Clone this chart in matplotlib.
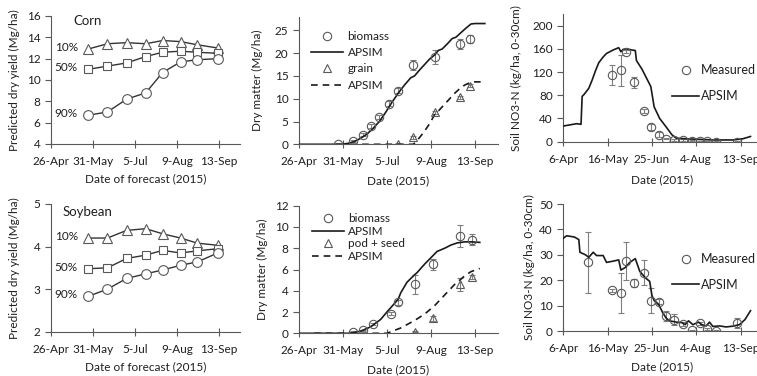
import numpy as np
import matplotlib
matplotlib.use("Agg")
import matplotlib.pyplot as plt
from matplotlib.lines import Line2D

plt.rcParams['font.family'] = ['Lato', 'DejaVu Sans']
plt.rcParams['font.size'] = 8

# ---------------- data (x values are day of year, 2015) ----------------
forecast_doy = [147, 163, 179, 195, 209, 224, 238, 255]
corn_p10 = [12.9, 13.4, 13.5, 13.4, 13.7, 13.6, 13.3, 13.0]
corn_p50 = [11.0, 11.3, 11.6, 12.2, 12.6, 12.7, 12.6, 12.5]
corn_p90 = [6.7, 7.0, 8.2, 8.8, 10.7, 11.7, 11.9, 12.0]
soy_p10 = [4.20, 4.20, 4.38, 4.42, 4.30, 4.20, 4.08, 4.03]
soy_p50 = [3.48, 3.50, 3.72, 3.80, 3.91, 3.85, 3.90, 3.95]
soy_p90 = [2.83, 3.00, 3.25, 3.36, 3.45, 3.56, 3.64, 3.85]
pct_labels = ['10%', '50%', '90%']

# corn dry matter
corn_bio_doy = [147, 159, 167, 173, 180, 188, 195, 207, 224, 244, 252]
corn_bio = [0.0, 0.7, 2.1, 4.0, 6.0, 8.9, 11.8, 17.3, 19.2, 22.0, 23.1]
corn_bio_err = [0.2, 0.3, 0.3, 0.4, 0.4, 0.5, 0.6, 1.1, 1.5, 1.0, 0.95]
corn_grain_doy = [195, 207, 224, 244, 252]
corn_grain = [0.0, 1.5, 7.0, 10.3, 12.9]
corn_grain_err = [0.2, 0.3, 0.3, 0.4, 0.4]
corn_bio_sim_doy = [116, 150, 155, 160, 165, 170, 175, 180, 185, 190, 195, 200, 205, 208,
                    212, 216, 220, 224, 227, 230, 234, 238, 241, 245, 249, 253, 256, 264]
corn_bio_sim = [0, 0, 0.2, 0.6, 1.3, 2.2, 3.5, 5.0, 7.0, 9.2, 11.2, 13.0, 14.6, 15.0,
                16.3, 17.5, 18.7, 19.6, 20.6, 20.9, 22.0, 23.2, 23.5, 24.5, 25.5, 26.4, 26.5, 26.5]
corn_grain_sim_doy = [157, 207, 210, 215, 220, 224, 228, 232, 236, 240, 244, 248, 252, 256, 264]
corn_grain_sim = [0, 0, 0.8, 2.5, 4.5, 6.5, 7.6, 8.8, 10.0, 11.2, 12.2, 13.0, 13.5, 13.7, 13.7]

# soybean dry matter
soy_bio_doy = [159, 167, 175, 189, 195, 208, 223, 244, 254]
soy_bio = [0.15, 0.3, 0.85, 1.85, 2.9, 4.6, 6.5, 9.15, 8.8]
soy_bio_err = [0.05, 0.05, 0.1, 0.15, 0.2, 0.9, 0.5, 1.0, 0.5]
soy_pod_doy = [208, 223, 244, 254]
soy_pod = [0.15, 1.4, 4.6, 5.3]
soy_pod_err = [0.05, 0.2, 0.6, 0.2]
soy_bio_sim_doy = [116, 157, 165, 173, 181, 186, 192, 195, 197, 202, 208, 210, 216, 221,
                   226, 232, 237, 242, 248, 253, 260]
soy_bio_sim = [0, 0, 0.2, 0.6, 1.3, 2.0, 2.8, 3.2, 3.8, 4.8, 5.5, 5.7, 6.5, 7.1,
               7.7, 8.0, 8.3, 8.5, 8.6, 8.6, 8.55]
soy_pod_sim_doy = [128, 186, 197, 208, 216, 224, 232, 240, 248, 253, 260]
soy_pod_sim = [0, 0, 0.5, 1.2, 1.8, 2.6, 3.6, 4.6, 5.4, 5.8, 6.1]

# soil nitrate
soil_doy = [140, 148, 153, 160, 169, 175, 182, 189, 196, 204, 212, 219, 226, 234, 253]
corn_no3 = [115, 123, 155, 102, 53, 25, 12, 5, 3, 3, 2, 1, 1, 0, 0]
corn_no3_err = [17, 27, 3, 10, 3, 5, 4, 1, 1, 1, 1, 0.5, 0.5, 0.5, 0.5]
corn_no3_sim_doy = [96, 108, 112, 113, 115, 119, 122, 125, 128, 132, 135, 141, 146, 148,
                    150, 153, 158, 161, 162, 167, 171, 175, 178, 183, 189, 194, 198, 207,
                    219, 231, 249, 258, 265]
corn_no3_sim = [27, 31, 30, 78, 82, 92, 106, 122, 136, 146, 152, 158, 162, 155,
                159, 160, 158, 157, 140, 125, 110, 95, 60, 40, 25, 12, 6, 5,
                4, 3, 3, 5, 9]
soy_soil_doy = [118, 140, 148, 153, 160, 169, 175, 182, 189, 196, 204, 212, 219, 226, 234, 253]
soy_no3 = [27, 16, 15, 27.7, 19, 23, 12, 11.5, 6, 4.5, 2.7, 0.2, 3, 0.8, 0, 3.3]
soy_no3_err = [12, 0.7, 8, 7.5, 1.5, 5, 5, 1, 2, 2, 0.7, 0.3, 0.5, 0.5, 0.3, 2]
soy_no3_sim_doy = [96, 99, 106, 110, 111, 116, 119, 123, 126, 132, 135, 141, 146, 148,
                   152, 156, 161, 165, 170, 174, 176, 178, 182, 186, 189, 192, 198, 203,
                   206, 209, 213, 218, 221, 225, 228, 231, 237, 243, 249, 255, 260, 265]
soy_no3_sim = [36.5, 37.5, 37, 36, 31, 30, 29, 31, 29.7, 29.7, 27, 27.5, 28, 24,
               25, 27, 28.5, 23.5, 21, 19.5, 14, 12, 10.5, 7, 5, 4, 3.5, 3.3,
               2.5, 4, 2.5, 3.5, 2.5, 2, 3.5, 1.8, 2, 1.6, 1.9, 2.5, 4.5, 8]

ticks_a = [116, 151, 186, 221, 256]
ticks_a_labels = ['26-Apr', '31-May', '5-Jul', '9-Aug', '13-Sep']
ticks_b = [96, 136, 176, 216, 256]
ticks_b_labels = ['6-Apr', '16-May', '25-Jun', '4-Aug', '13-Sep']

# ---------------- styling ----------------
W, H = 757, 376
fig = plt.figure(figsize=(W / 100, H / 100), dpi=100)
AX = '#595959'
TXT = '#1f1f1f'
LINE = '#1a1a1a'
MEC = '#595959'


def add_ax(l, r, t, b):
    return fig.add_axes([l / W, 1 - b / H, (r - l) / W, (b - t) / H])


def style(ax, xt, xtl, yt, xlim, ylim, ylabel, xlabel, ylx, xly):
    for s in ['top', 'right']:
        ax.spines[s].set_visible(False)
    for s in ['left', 'bottom']:
        ax.spines[s].set_color(AX)
        ax.spines[s].set_linewidth(0.8)
    ax.set_xlim(*xlim)
    ax.set_ylim(*ylim)
    ax.set_xticks(xt)
    ax.set_xticklabels(xtl)
    ax.set_yticks(yt)
    ax.tick_params(axis='x', direction='inout', length=6, width=0.8, color=AX,
                   labelsize=8.5, labelcolor=TXT, pad=5.5)
    ax.tick_params(axis='y', direction='out', length=4, width=0.8, color=AX,
                   labelsize=8.5, labelcolor=TXT, pad=3.5)
    ax.set_ylabel(ylabel, fontsize=8.5, color=TXT)
    ax.set_xlabel(xlabel, fontsize=8.5, color=TXT)
    ax.yaxis.set_label_coords(ylx, 0.5)
    ax.xaxis.set_label_coords(0.5, xly)
    ax.patch.set_alpha(0)


def yield_panel(ax, p10, p50, p90, name, namepos, ylim, yt, xly):
    mk = dict(mfc='white', mec=MEC, mew=0.8, color='#333333', lw=1.0)
    ax.plot(forecast_doy, p10, marker='^', ms=7, **mk)
    ax.plot(forecast_doy, p50, marker='s', ms=6.3, **mk)
    ax.plot(forecast_doy, p90, marker='o', ms=7, **mk)
    for lab, ser in zip(pct_labels, [p10, p50, p90]):
        ax.annotate(lab, xy=(forecast_doy[0], ser[0]), xytext=(-7.5, 1),
                    textcoords='offset points', ha='right', va='center',
                    fontsize=8.5, color=TXT)
    ax.text(namepos[0], namepos[1], name, transform=ax.transAxes, ha='left',
            va='center', fontsize=9.5, color=TXT)
    style(ax, ticks_a, ticks_a_labels, yt, (116, 273.5), ylim,
          'Predicted dry yield (Mg/ha)', 'Date of forecast (2015)', -0.164, xly)


def dm_panel(ax, bd, bv, be, gd, gv, ge, bsd, bsv, gsd, gsv, glabel, ylim, yt,
             legpos, lspace, xly, ylx):
    eb = dict(fmt='none', ecolor='#7f7f7f', elinewidth=0.8, capsize=2.2, capthick=0.8)
    ax.plot(bsd, bsv, color=LINE, lw=1.2, zorder=3)
    ax.plot(gsd, gsv, color=LINE, lw=1.2, dashes=[4, 3], zorder=3)
    ax.errorbar(bd, bv, yerr=be, **eb)
    ax.errorbar(gd, gv, yerr=ge, **eb)
    ax.plot(bd, bv, ls='none', marker='o', ms=6, mfc='none', mec=MEC, mew=0.8, zorder=4)
    ax.plot(gd, gv, ls='none', marker='^', ms=5.8, mfc='none', mec=MEC, mew=0.8, zorder=4)
    handles = [Line2D([], [], ls='none', marker='o', ms=6, mfc='none', mec=MEC, mew=0.8),
               Line2D([], [], color=LINE, lw=1.2),
               Line2D([], [], ls='none', marker='^', ms=5.8, mfc='none', mec=MEC, mew=0.8),
               Line2D([], [], color=LINE, lw=1.2, dashes=[4, 3])]
    ax.legend(handles, ['biomass', 'APSIM', glabel, 'APSIM'], loc='upper left',
              bbox_to_anchor=legpos, frameon=False, borderaxespad=0, borderpad=0,
              handlelength=2.7, handletextpad=0.4, labelspacing=lspace,
              fontsize=8.5, labelcolor=TXT)
    style(ax, ticks_a, ticks_a_labels, yt, (116, 274.5), ylim,
          'Dry matter (Mg/ha)', 'Date (2015)', ylx, xly)


def soil_panel(ax, d, v, e, sd, sv, ylim, yt, legpos, xly, ylx):
    eb = dict(fmt='none', ecolor='#7f7f7f', elinewidth=0.8, capsize=2.2, capthick=0.8)
    ax.plot(sd, sv, color=LINE, lw=1.2, zorder=3)
    ax.errorbar(d, v, yerr=e, **eb)
    ax.plot(d, v, ls='none', marker='o', ms=6, mfc='none', mec=MEC, mew=0.8, zorder=4)
    handles = [Line2D([], [], ls='none', marker='o', ms=6, mfc='none', mec=MEC, mew=0.8),
               Line2D([], [], color=LINE, lw=1.2)]
    ax.legend(handles, ['Measured', 'APSIM'], loc='upper left', bbox_to_anchor=legpos,
              frameon=False, borderaxespad=0, borderpad=0, handlelength=2.2,
              handletextpad=0.15, labelspacing=1.1, fontsize=9, labelcolor=TXT)
    style(ax, ticks_b, ticks_b_labels, yt, (96, 275), ylim,
          'Soil NO3-N (kg/ha, 0-30cm)', 'Date (2015)', ylx, xly)


ax1 = add_ax(51, 240, 16, 144)
yield_panel(ax1, corn_p10, corn_p50, corn_p90, 'Corn', (0.116, 0.963), (4, 16),
            [4, 6, 8, 10, 12, 14, 16], -0.225)
ax4 = add_ax(51, 240, 204, 331.7)
yield_panel(ax4, soy_p10, soy_p50, soy_p90, 'Soybean', (0.063, 0.94), (2, 5),
            [2, 3, 4, 5], -0.233)

ax2 = add_ax(299, 498, 16.7, 144.3)
dm_panel(ax2, corn_bio_doy, corn_bio, corn_bio_err, corn_grain_doy, corn_grain,
         corn_grain_err, corn_bio_sim_doy, corn_bio_sim, corn_grain_sim_doy,
         corn_grain_sim, 'grain', (0, 28), [0, 5, 10, 15, 20, 25], (0.06, 0.89),
         0.45, -0.245, -0.181)
ax5 = add_ax(299, 498, 205.7, 333.3)
dm_panel(ax5, soy_bio_doy, soy_bio, soy_bio_err, soy_pod_doy, soy_pod, soy_pod_err,
         soy_bio_sim_doy, soy_bio_sim, soy_pod_sim_doy, soy_pod_sim, 'pod + seed',
         (0, 12), [0, 2, 4, 6, 8, 10, 12], (0.064, 0.94), 0.13, -0.244, -0.156)

ax3 = add_ax(563.3, 761.6, 14, 141.7)
soil_panel(ax3, soil_doy, corn_no3, corn_no3_err, corn_no3_sim_doy, corn_no3_sim,
           (0, 220), [0, 40, 80, 120, 160, 200], (0.547, 0.605), -0.257, -0.208)
ax6 = add_ax(563.3, 761.6, 204, 331)
soil_panel(ax6, soy_soil_doy, soy_no3, soy_no3_err, soy_no3_sim_doy, soy_no3_sim,
           (0, 50), [0, 10, 20, 30, 40, 50], (0.547, 0.614), -0.238, -0.143)

fig.savefig('out.png', dpi=100)
